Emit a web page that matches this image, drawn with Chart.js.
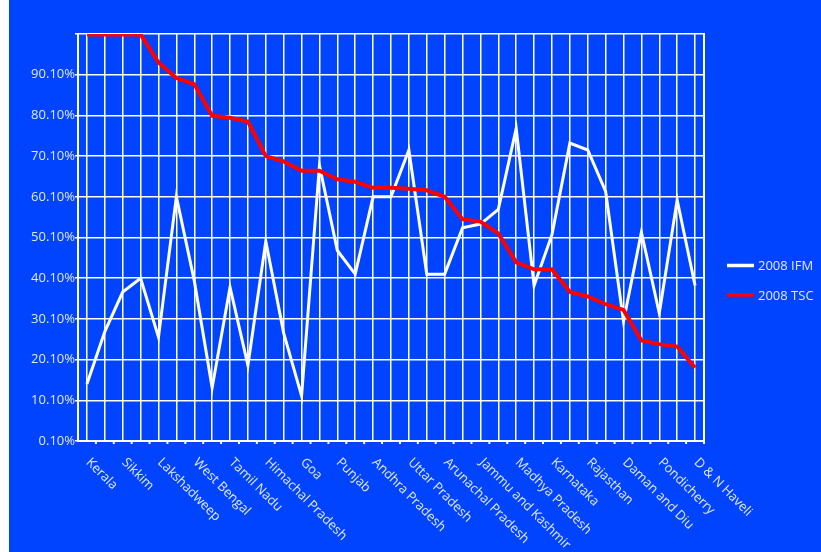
<!DOCTYPE html>
<html>
<head>
<meta charset="utf-8">
<title>2008 IFM / 2008 TSC by state</title>
<script src="https://cdn.jsdelivr.net/npm/chart.js@4"></script>
<style>
  html, body { margin: 0; padding: 0; background: #fff; }
  #wrap { position: absolute; left: 9px; top: 0; width: 812px; height: 552px; background: #0044ff; }
</style>
</head>
<body>
<div id="wrap"><canvas id="chart" width="812" height="552"></canvas></div>
<script>
// States ranked by TSC coverage; the axis only prints every other name
const states = [
  'Kerala', '', 'Sikkim', '', 'Lakshadweep', '', 'West Bengal', '', 'Tamil Nadu', '',
  'Himachal Pradesh', '', 'Goa', '', 'Punjab', '', 'Andhra Pradesh', '', 'Uttar Pradesh', '',
  'Arunachal Pradesh', '', 'Jammu and Kashmir', '', 'Madhya Pradesh', '', 'Karnataka', '',
  'Rajasthan', '', 'Daman and Diu', '', 'Pondicherry', '', 'D & N Haveli'
];

const ifm2008 = [
  14.1, 27.0, 36.7, 40.1, 25.6, 60.1, 39.5, 13.2, 37.9, 18.7,
  49.2, 26.6, 11.2, 67.8, 46.9, 41.1, 60.1, 60.1, 71.6, 41.1,
  41.1, 52.5, 53.4, 57.0, 76.9, 38.3, 50.8, 73.3, 71.6, 61.4,
  29.5, 51.4, 31.5, 59.3, 38.3
];

const tsc2008 = [
  100, 100, 100, 100, 93.1, 89.3, 87.8, 80.0, 79.5, 78.6,
  70.1, 68.8, 66.5, 66.5, 64.4, 63.8, 62.3, 62.3, 62.1, 61.7,
  60.1, 54.6, 54.0, 51.1, 44.0, 42.3, 42.3, 36.7, 35.6, 33.7,
  32.3, 24.8, 23.9, 23.3, 18.1
];

const yTicks = [0.1, 10.1, 20.1, 30.1, 40.1, 50.1, 60.1, 70.1, 80.1, 90.1, 100.1];

const FONT = '"Open Sans", sans-serif';
const TEXT = '#e2e8ff';

// right-hand frame, small ticks between categories, slanted names and the legend
const chartExtras = {
  id: 'chartExtras',
  beforeDatasetsDraw(chart) {
    const { ctx, chartArea: a, scales: { x } } = chart;
    ctx.save();
    ctx.strokeStyle = '#fff';
    ctx.lineWidth = 2;
    ctx.beginPath();
    ctx.moveTo(a.right, a.top - 1);
    ctx.lineTo(a.right, a.bottom + 3);
    for (let i = 0; i < states.length - 1; i++) {
      const mid = (x.getPixelForValue(i) + x.getPixelForValue(i + 1)) / 2;
      ctx.moveTo(mid, a.bottom);
      ctx.lineTo(mid, a.bottom + 3);
    }
    ctx.stroke();
    ctx.restore();
  },
  afterDraw(chart) {
    const { ctx, chartArea: a, scales: { x } } = chart;
    ctx.save();
    ctx.font = `13px ${FONT}`;
    ctx.fillStyle = TEXT;
    ctx.textAlign = 'left';
    ctx.textBaseline = 'alphabetic';
    states.forEach((name, i) => {
      if (!name) return;
      ctx.save();
      ctx.translate(x.getPixelForValue(i) - 1.5, a.bottom + 22);
      ctx.rotate(Math.PI / 4);
      ctx.fillText(name, 0, 0);
      ctx.restore();
    });

    const lx = a.right + 23;
    ctx.textBaseline = 'middle';
    chart.data.datasets.forEach((ds, i) => {
      const ly = a.top + 231.5 + i * 29.5;
      ctx.strokeStyle = ds.borderColor;
      ctx.lineWidth = 3.5;
      ctx.beginPath();
      ctx.moveTo(lx, ly);
      ctx.lineTo(lx + 27, ly);
      ctx.stroke();
      ctx.fillText(ds.label, lx + 31, ly + 1);
    });
    ctx.restore();
  }
};

new Chart(document.getElementById('chart'), {
  type: 'line',
  data: {
    labels: states,
    datasets: [
      {
        label: '2008 IFM',
        data: ifm2008,
        borderColor: '#ffffff',
        backgroundColor: '#ffffff',
        borderWidth: 3,
        pointRadius: 0,
        tension: 0,
        order: 1,
      },
      {
        label: '2008 TSC',
        data: tsc2008,
        borderColor: '#ff0000',
        backgroundColor: '#ff0000',
        borderWidth: 4,
        pointRadius: 0,
        tension: 0,
        order: 0,
      },
    ],
  },
  options: {
    responsive: false,
    animation: false,
    layout: { padding: { top: 34, right: 117, left: 0, bottom: 0 } },
    plugins: { legend: { display: false }, tooltip: { enabled: false } },
    scales: {
      x: {
        offset: true,
        grid: { color: '#ffffff', lineWidth: 1.5, offset: false, drawTicks: false },
        border: { color: '#ffffff', width: 2 },
        ticks: { display: false },
        afterFit: s => { s.height = 111; },
      },
      y: {
        min: 0.1,
        max: 100.1,
        afterBuildTicks: s => { s.ticks = yTicks.map(v => ({ value: v })); },
        afterFit: s => { s.width = 69; },
        grid: { color: '#ffffff', lineWidth: 1.5, tickLength: 3, tickColor: '#ffffff' },
        border: { color: '#ffffff', width: 2 },
        ticks: {
          color: TEXT,
          padding: 0,
          font: { family: FONT, size: 13 },
          callback: v => (v > 100 ? '' : v.toFixed(2) + '%'),
        },
      },
    },
  },
  plugins: [chartExtras],
});
</script>
</body>
</html>
